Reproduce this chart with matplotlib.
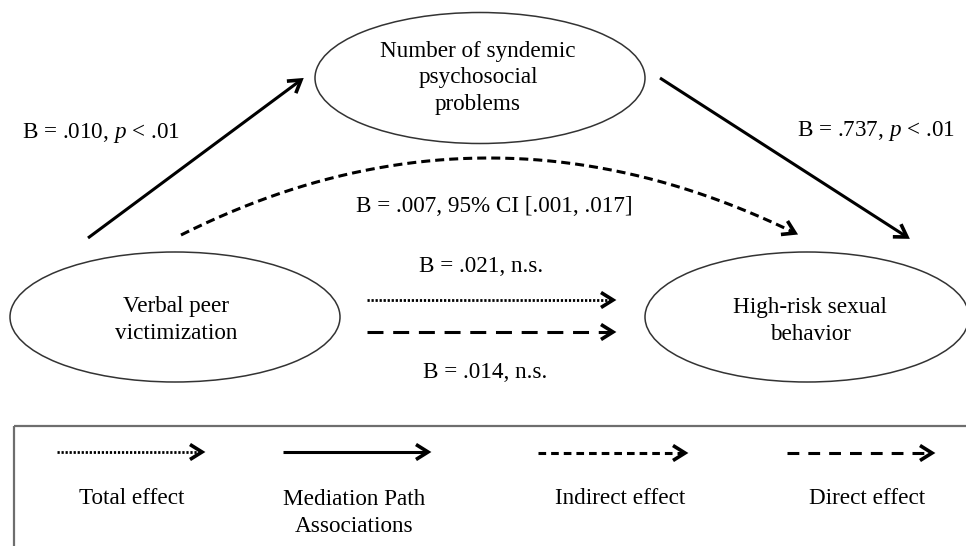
import numpy as np
import matplotlib
matplotlib.use("Agg")
import matplotlib.pyplot as plt
from matplotlib.patches import Ellipse, Rectangle

# ---- content ----
node_labels = ["Number of syndemic\npsychosocial\nproblems",
               "Verbal peer\nvictimization",
               "High-risk sexual\nbehavior"]
path_a_label = "B = .010, $p$ < .01"
path_b_label = "B = .737, $p$ < .01"
indirect_label = "B = .007, 95% CI [.001, .017]"
total_label = "B = .021, n.s."
direct_label = "B = .014, n.s."
legend_labels = ["Total effect", "Mediation Path\nAssociations", "Indirect effect", "Direct effect"]

plt.rcParams['font.family'] = ['Liberation Serif', 'DejaVu Serif']
plt.rcParams['mathtext.fontset'] = 'custom'
plt.rcParams['mathtext.rm'] = 'Liberation Serif'
plt.rcParams['mathtext.it'] = 'Liberation Serif:italic'
plt.rcParams['lines.scale_dashes'] = False

FS = 16.7
fig = plt.figure(figsize=(9.66, 5.46), dpi=100)
ax = fig.add_axes([0, 0, 1, 1])
ax.set_xlim(0, 966)
ax.set_ylim(546, 0)
ax.axis('off')

STYLES = {
    'solid': dict(ls='-', lw=2.2),
    'dotted': dict(ls=(0, (1.6, 1.3)), lw=2.0),
    'indirect': dict(ls=(0, (6.5, 3.6)), lw=2.2),
    'direct': dict(ls=(0, (11.5, 7.0)), lw=2.2),
}

def head(x1, y1, dx, dy, lw, L=12, W=7.5):
    n = np.hypot(dx, dy)
    ux, uy = dx / n, dy / n
    px, py = -uy, ux
    bx, by = x1 - ux * L, y1 - uy * L
    ax.plot([bx + px * W, x1, bx - px * W], [by + py * W, y1, by - py * W],
            color='black', lw=lw, solid_joinstyle='miter', solid_capstyle='butt')

def arrow(x0, y0, x1, y1, style):
    st = STYLES[style]
    n = np.hypot(x1 - x0, y1 - y0)
    ux, uy = (x1 - x0) / n, (y1 - y0) / n
    ax.plot([x0, x1 - ux * 2], [y0, y1 - uy * 2], color='black', ls=st['ls'], lw=st['lw'],
            dash_capstyle='butt', solid_capstyle='butt')
    head(x1, y1, x1 - x0, y1 - y0, 2.6)

def curve_arrow(p0, c, p2, style):
    st = STYLES[style]
    t = np.linspace(0, 1, 200)
    xs = (1 - t) ** 2 * p0[0] + 2 * (1 - t) * t * c[0] + t ** 2 * p2[0]
    ys = (1 - t) ** 2 * p0[1] + 2 * (1 - t) * t * c[1] + t ** 2 * p2[1]
    ax.plot(xs, ys, color='black', ls=st['ls'], lw=st['lw'], dash_capstyle='butt')
    head(p2[0], p2[1], p2[0] - c[0], p2[1] - c[1], 2.6)

# ---- nodes ----
node_geom = [(480, 78, 330, 131), (175, 317, 330, 130), (807, 317, 324, 130)]
text_pos = [(478, 78), (176, 320), (810, 321)]
for (cx, cy, w, h), (tx, ty), lab in zip(node_geom, text_pos, node_labels):
    ax.add_patch(Ellipse((cx, cy), w, h, fill=False, edgecolor='#333333', lw=1.1))
    ax.text(tx, ty, lab, ha='center', va='center', fontsize=FS, linespacing=1.36)

# ---- paths ----
arrow(88, 238, 301, 80, 'solid')
arrow(660, 78, 907, 237, 'solid')
curve_arrow((181, 235), (486, 82), (795, 233), 'indirect')
arrow(367, 300, 613, 300, 'dotted')
arrow(367, 332, 613, 332, 'direct')

ax.text(101, 133, path_a_label, ha='center', va='center', fontsize=FS)
ax.text(876, 131, path_b_label, ha='center', va='center', fontsize=FS)
ax.text(494, 206, indirect_label, ha='center', va='center', fontsize=FS)
ax.text(481, 267, total_label, ha='center', va='center', fontsize=FS)
ax.text(485, 373, direct_label, ha='center', va='center', fontsize=FS)

# ---- legend ----
ax.add_patch(Rectangle((14, 426), 1000, 200, fill=False, edgecolor='#6e6e6e', lw=1.6))
arrow(57, 452, 202, 452, 'dotted')
arrow(283, 452, 428, 452, 'solid')
STYLES['indirect'] = dict(ls=(0, (5.5, 3.6)), lw=2.2)
arrow(538, 453, 685, 453, 'indirect')
STYLES['direct'] = dict(ls=(0, (8.5, 6.5)), lw=2.2)
arrow(787, 453, 932, 453, 'direct')

for x, lab in zip([132, 354, 620, 867], legend_labels):
    if '\n' in lab:
        ax.text(x, 513, lab, ha='center', va='center', fontsize=FS, linespacing=1.4)
    else:
        ax.text(x, 499, lab, ha='center', va='center', fontsize=FS)

fig.savefig('out.png', dpi=100)
